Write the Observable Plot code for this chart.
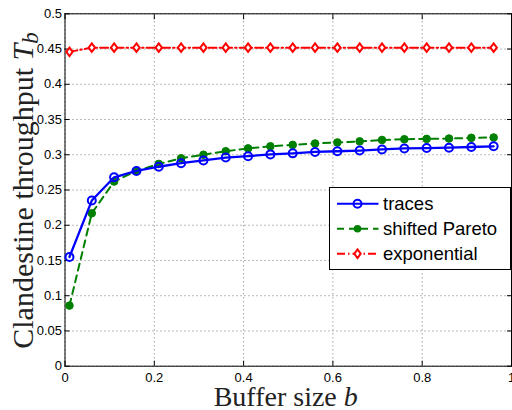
<!DOCTYPE html>
<html>
<head>
<meta charset="utf-8">
<script src="https://cdn.jsdelivr.net/npm/d3@7"></script>
<script src="https://cdn.jsdelivr.net/npm/@observablehq/plot@0.6"></script>
<style>
  html, body { margin: 0; padding: 0; background: #fff; }
  #chart { width: 512px; height: 410px; position: relative; }
</style>
</head>
<body>
<div id="chart"></div>
<script>
// ---- data ----
const bufferSize = [0.01, 0.06, 0.11, 0.16, 0.21, 0.26, 0.31, 0.36, 0.41, 0.46,
                    0.51, 0.56, 0.61, 0.66, 0.71, 0.76, 0.81, 0.86, 0.91, 0.96];
const traces = [0.155, 0.235, 0.268, 0.277, 0.283, 0.288, 0.292, 0.296, 0.298, 0.3005,
                0.302, 0.304, 0.305, 0.306, 0.3075, 0.309, 0.3095, 0.310, 0.311, 0.312];
const shiftedPareto = [0.086, 0.217, 0.262, 0.277, 0.287, 0.295, 0.300, 0.305, 0.309, 0.312,
                       0.314, 0.316, 0.3175, 0.319, 0.321, 0.322, 0.3225, 0.323, 0.324, 0.3245];
const exponential = [0.446, 0.452, 0.452, 0.452, 0.452, 0.452, 0.452, 0.452, 0.452, 0.452,
                     0.452, 0.452, 0.452, 0.452, 0.452, 0.452, 0.452, 0.452, 0.452, 0.452];
const seriesNames = ["traces", "shifted Pareto", "exponential"];
const xTicks = [0, 0.2, 0.4, 0.6, 0.8, 1];
const yTicks = [0, 0.05, 0.1, 0.15, 0.2, 0.25, 0.3, 0.35, 0.4, 0.45, 0.5];

const toRows = (vals) => bufferSize.map((b, i) => ({b, v: vals[i]}));
const rowsT = toRows(traces), rowsP = toRows(shiftedPareto), rowsE = toRows(exponential);

const diamond = {
  draw(ctx, size) {
    const h = Math.sqrt(size / Math.PI), w = h * 0.75;
    ctx.moveTo(0, -h); ctx.lineTo(w, 0); ctx.lineTo(0, h); ctx.lineTo(-w, 0); ctx.closePath();
  }
};

const fmt = d => String(+d.toFixed(2));
const grid = {stroke: "#000", strokeOpacity: 0.55, strokeDasharray: "1,3", strokeWidth: 1};

const plot = Plot.plot({
  width: 512, height: 410,
  marginLeft: 64.5, marginRight: 1, marginTop: 13.3, marginBottom: 44.3,
  style: {background: "#fff", fontFamily: "'Liberation Sans', Arial, sans-serif"},
  x: {domain: [0, 1]},
  y: {domain: [0, 0.5]},
  marks: [
    Plot.gridX(xTicks, grid),
    Plot.gridY(yTicks, grid),
    Plot.axisX(xTicks, {anchor: "bottom", tickSize: 0, tickPadding: 7, tickFormat: fmt, fontSize: 13, fill: "#000", label: null}),
    Plot.axisY(yTicks, {anchor: "left", tickSize: 0, tickPadding: 3, tickFormat: fmt, fontSize: 13, fill: "#000", label: null}),
    Plot.axisX(xTicks, {anchor: "bottom", tickSize: -5, text: null, label: null, stroke: "#000"}),
    Plot.axisX(xTicks, {anchor: "top", tickSize: -5, text: null, label: null, stroke: "#000"}),
    Plot.axisY(yTicks, {anchor: "left", tickSize: -5, text: null, label: null, stroke: "#000"}),
    Plot.axisY(yTicks, {anchor: "right", tickSize: -5, text: null, label: null, stroke: "#000"}),
    Plot.frame({stroke: "#000", strokeWidth: 1}),
    // exponential
    Plot.line(rowsE, {x: "b", y: "v", stroke: "#ff0000", strokeWidth: 2, strokeDasharray: "8,3,1.5,3"}),
    Plot.dot(rowsE, {x: "b", y: "v", symbol: diamond, r: 4.3, stroke: "#ff0000", strokeWidth: 2, fill: "#fff"}),
    // shifted Pareto
    Plot.line(rowsP, {x: "b", y: "v", stroke: "#008000", strokeWidth: 2, strokeDasharray: "7,5"}),
    Plot.dot(rowsP, {x: "b", y: "v", r: 3.8, fill: "#008000", stroke: "#008000", strokeWidth: 1}),
    // traces
    Plot.line(rowsT, {x: "b", y: "v", stroke: "#0000ff", strokeWidth: 2.3}),
    Plot.dot(rowsT, {x: "b", y: "v", r: 4, stroke: "#0000ff", strokeWidth: 2, fill: "none"})
  ]
});

document.getElementById("chart").appendChild(plot);

// ---- axis labels & legend ----
const svg = d3.select(plot);
const xs = plot.scale("x"), ys = plot.scale("y");
const cx = (xs.range[0] + xs.range[1]) / 2, cy = (ys.range[0] + ys.range[1]) / 2;

const xl = svg.append("text")
  .attr("x", cx - 2).attr("y", 406)
  .attr("text-anchor", "middle")
  .style("font-family", "'Liberation Serif', 'Times New Roman', serif")
  .style("font-size", "28px").attr("fill", "#222");
xl.append("tspan").text("Buffer size ");
xl.append("tspan").style("font-style", "italic").text("b");

const yl = svg.append("text")
  .attr("transform", `translate(33,${cy + 1}) rotate(-90)`)
  .attr("text-anchor", "middle")
  .style("font-family", "'Liberation Serif', 'Times New Roman', serif")
  .style("font-size", "30px").attr("fill", "#222");
yl.append("tspan").text("Clandestine throughput ");
yl.append("tspan").style("font-style", "italic").text("T");
yl.append("tspan").style("font-style", "italic").style("font-size", "23px").attr("dy", 5).text("b");

// legend
const lg = svg.append("g").attr("text-anchor", "start");
lg.append("rect").attr("x", 329.5).attr("y", 187.5).attr("width", 181).attr("height", 82)
  .attr("fill", "#fff").attr("stroke", "#000").attr("stroke-width", 1);
const legendStyles = [
  {color: "#0000ff", dash: null, marker: "circle"},
  {color: "#008000", dash: "7,5", marker: "dot"},
  {color: "#ff0000", dash: "8,3,1.5,3", marker: "diamond"}
];
seriesNames.forEach((name, i) => {
  const y = 203.7 + i * 25;
  const s = legendStyles[i];
  lg.append("line").attr("x1", 337).attr("x2", 378.5).attr("y1", y).attr("y2", y)
    .attr("stroke", s.color).attr("stroke-width", 2).attr("stroke-dasharray", s.dash);
  if (s.marker === "circle") {
    lg.append("circle").attr("cx", 357.5).attr("cy", y).attr("r", 4).attr("fill", "none")
      .attr("stroke", s.color).attr("stroke-width", 2);
  } else if (s.marker === "dot") {
    lg.append("circle").attr("cx", 357.5).attr("cy", y).attr("r", 3.8).attr("fill", s.color);
  } else {
    lg.append("path").attr("transform", `translate(357.5,${y})`)
      .attr("d", "M0,-4.3L3.2,0L0,4.3L-3.2,0Z").attr("fill", "#fff")
      .attr("stroke", s.color).attr("stroke-width", 2);
  }
  lg.append("text").attr("x", 383).attr("y", y).attr("dy", "0.35em")
    .attr("text-anchor", "start")
    .style("font-family", "'Liberation Sans', Arial, sans-serif")
    .style("font-size", "18.5px").attr("fill", "#000").text(name);
});
</script>
</body>
</html>
